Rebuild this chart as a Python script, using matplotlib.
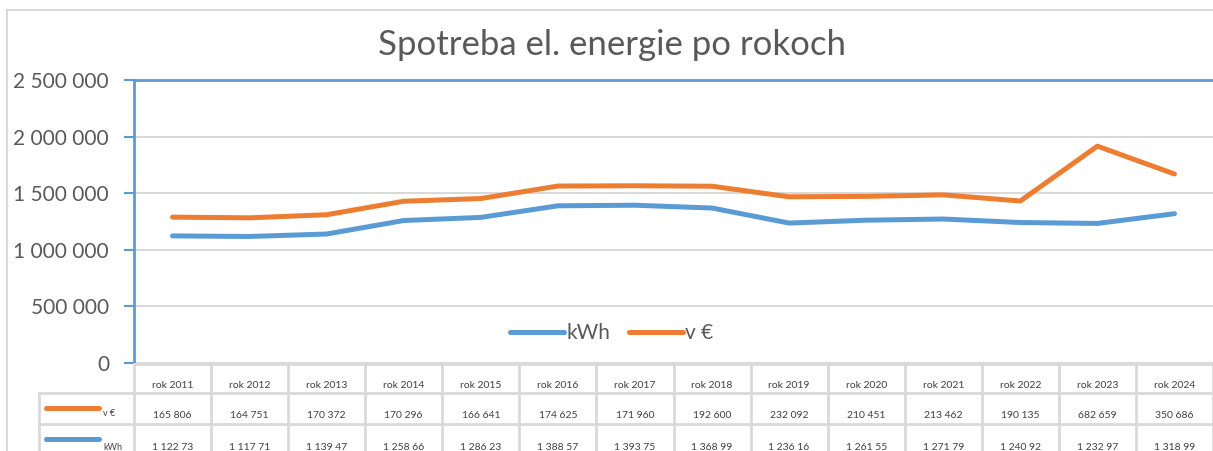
import matplotlib.pyplot as plt
import matplotlib.transforms as mtransforms
from matplotlib.lines import Line2D
from matplotlib.patches import Rectangle

plt.rcParams['font.family'] = ['Lato', 'DejaVu Sans']

years = ["rok 2011", "rok 2012", "rok 2013", "rok 2014", "rok 2015", "rok 2016", "rok 2017",
         "rok 2018", "rok 2019", "rok 2020", "rok 2021", "rok 2022", "rok 2023", "rok 2024"]
kwh = [1122730, 1117710, 1139470, 1258660, 1286230, 1388570, 1393750,
       1368990, 1236160, 1261550, 1271790, 1240920, 1232970, 1318990]
eur = [165806, 164751, 170372, 170296, 166641, 174625, 171960,
       192600, 232092, 210451, 213462, 190135, 682659, 350686]

blue = "#5B9BD5"
orange = "#ED7D31"
grey_txt = "#595959"
grid_c = "#D9D9D9"

W, H = 1213, 451
fig = plt.figure(figsize=(W / 100, H / 100), dpi=100)

def fy(py):
    return 1 - py / H

def fx(px):
    return px / W

# chart border
fig.add_artist(Rectangle((fx(7), fy(460)), 1.2, fy(10) - fy(460), transform=fig.transFigure,
                         fill=False, edgecolor=grid_c, lw=1.5))

ax = fig.add_axes([fx(134), fy(363), fx(1213) - fx(134), fy(80) - fy(363)])
x = list(range(len(years)))
stacked = [k + e for k, e in zip(kwh, eur)]  # stacked line chart
ax.plot(x, kwh, color=blue, lw=3.6, solid_capstyle='round', label="kWh", zorder=3)
ax.plot(x, stacked, color=orange, lw=3.6, solid_capstyle='round', label="v €", zorder=3)

ax.set_xlim(-0.5, len(years) - 0.5)
ax.set_ylim(0, 2500000)
ax.set_yticks([0, 500000, 1000000, 1500000, 2000000, 2500000])
ax.set_yticklabels([f"{v:,}".replace(",", " ") for v in ax.get_yticks().astype(int)],
                   fontsize=15, color=grey_txt)
ax.tick_params(axis='y', length=7, width=1.5, color=blue, pad=11)
ax.set_xticks([])
ax.grid(axis='y', color=grid_c, lw=1.5)
for s in ['right', 'bottom']:
    ax.spines[s].set_visible(False)
ax.spines['left'].set_color(blue)
ax.spines['left'].set_linewidth(2)
ax.spines['top'].set_color(blue)
ax.spines['top'].set_linewidth(2)

ax.legend(loc='center', bbox_to_anchor=(0.443, 0.106), ncol=2, frameon=False,
          fontsize=15, labelcolor=grey_txt, handlelength=2.6, handletextpad=0.1,
          columnspacing=0.9)

fig.suptitle("Spotreba el. energie po rokoch", x=fx(612), y=fy(45), va='center',
             fontsize=25, color=grey_txt)

# data table under the plot
tr = mtransforms.blended_transform_factory(ax.transData, fig.transFigure)
row_lines = [364, 393, 424]
for i, py in enumerate(row_lines):
    x0 = -0.5 if i == 0 else -0.5 - (134 - 39) / ((1213 - 134) / len(years))
    fig.add_artist(Line2D([x0, len(years) - 0.5], [fy(py), fy(py)], transform=tr,
                          color=grid_c, lw=2, zorder=1))
for i in range(len(years) + 1):
    fig.add_artist(Line2D([i - 0.5, i - 0.5], [fy(364), fy(460)], transform=tr,
                          color=grid_c, lw=2, zorder=1))
fig.add_artist(Line2D([fx(39), fx(39)], [fy(393), fy(460)], transform=fig.transFigure,
                      color=grid_c, lw=2))

def fmt(v):
    return f"{v:,}".replace(",", " ")

for i, yr in enumerate(years):
    fig.text(i, fy(385), yr, transform=tr, ha='center', va='center', fontsize=7.5, color='#404040')
    fig.text(i, fy(416), fmt(eur[i]), transform=tr, ha='center', va='center', fontsize=7.5, color='#404040')
    fig.text(i, fy(447), fmt(kwh[i])[:8], transform=tr, ha='center', va='center', fontsize=7.5, color='#404040')

# table legend keys
fig.add_artist(Line2D([fx(46), fx(99)], [fy(408), fy(408)], transform=fig.transFigure,
                      color=orange, lw=3.6, solid_capstyle='round'))
fig.text(fx(103), fy(413), "v €", fontsize=6.5, color='#404040', va='center')
fig.add_artist(Line2D([fx(46), fx(99)], [fy(439), fy(439)], transform=fig.transFigure,
                      color=blue, lw=3.6, solid_capstyle='round'))
fig.text(fx(103), fy(447), "kWh", fontsize=6.5, color='#404040', va='center')

fig.savefig("out.png", dpi=100)
